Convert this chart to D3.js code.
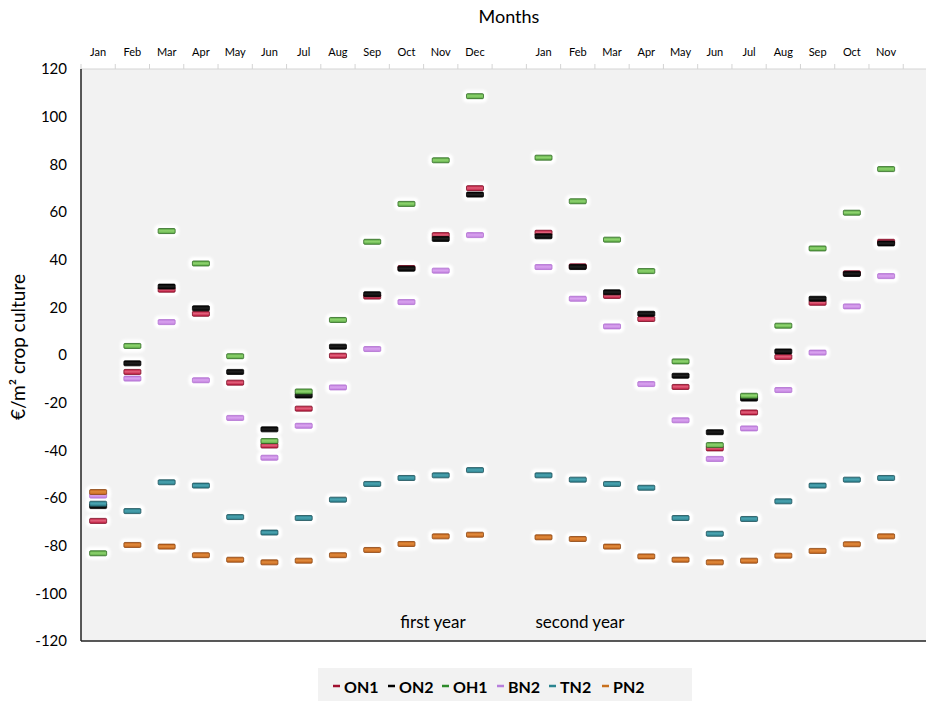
<!DOCTYPE html>
<html>
<head>
<meta charset="utf-8">
<script src="https://cdn.jsdelivr.net/npm/d3@7"></script>
<style>
  html, body { margin: 0; padding: 0; background: #ffffff; }
  svg { display: block; font-family: Lato, "Open Sans", sans-serif; }
</style>
</head>
<body>
<svg id="chart" width="926" height="701"></svg>
<script>
// ---- Data ----
const months = ["Jan","Feb","Mar","Apr","May","Jun","Jul","Aug","Sep","Oct","Nov","Dec","",
                "Jan","Feb","Mar","Apr","May","Jun","Jul","Aug","Sep","Oct","Nov"];
const yTicks = [120, 100, 80, 60, 40, 20, 0, -20, -40, -60, -80, -100, -120];
const seriesNames = ["ON1", "ON2", "OH1", "BN2", "TN2", "PN2"];
const ON1 = [-69.6, -7.1, 27.4, 17.3, -11.6, -38.0, -22.5, -0.3, 24.5, 36.5, 50.3, 70.0, null,
             51.3, 37.2, 24.8, 15.1, -13.4, -39.2, -24.1, -0.8, 21.9, 34.3, 47.5];
const ON2 = [-63.4, -3.5, 28.7, 19.6, -7.1, -31.2, -17.0, 3.5, 25.5, 36.2, 48.7, 67.3, null,
             49.8, 36.9, 26.3, 17.3, -8.7, -32.4, -18.3, 1.5, 23.6, 34.0, 46.8];
const OH1 = [-83.2, 3.8, 52.0, 38.4, -0.5, -36.1, -15.3, 14.7, 47.5, 63.4, 81.7, 108.6, null,
             82.8, 64.5, 48.4, 35.2, -2.7, -37.8, -17.1, 12.3, 44.7, 59.7, 78.0];
const BN2 = [-59.0, -9.9, 13.8, -10.6, -26.4, -43.1, -29.7, -13.6, 2.5, 22.2, 35.4, 50.3, null,
             36.9, 23.6, 12.0, -12.2, -27.4, -43.6, -30.8, -14.7, 1.0, 20.4, 33.1];
const TN2 = [-62.4, -65.5, -53.4, -54.8, -68.0, -74.5, -68.4, -60.7, -54.1, -51.6, -50.5, -48.3, null,
             -50.5, -52.3, -54.1, -55.7, -68.4, -75.0, -68.8, -61.4, -54.8, -52.3, -51.6];
const PN2 = [-57.5, -79.7, -80.4, -84.0, -85.9, -87.0, -86.3, -84.0, -81.8, -79.3, -76.1, -75.4, null,
             -76.5, -77.2, -80.4, -84.5, -85.9, -87.0, -86.3, -84.2, -82.2, -79.4, -76.1];
const seriesValues = [ON1, ON2, OH1, BN2, TN2, PN2];
const yearLabels = ["first year", "second year"];

// ---- Styles ----
const colors = {
  ON1: { top: "#e0607a", fill: "#c0183f", stroke: "#7a0a22" },
  ON2: { top: "#202020", fill: "#000000", stroke: "#000000" },
  OH1: { top: "#8fd46f", fill: "#5aa845", stroke: "#2f6a22" },
  BN2: { top: "#d9a3ef", fill: "#c07fdd", stroke: "#b06ed0" },
  TN2: { top: "#4aa3b0", fill: "#2b7f8c", stroke: "#1c4f58" },
  PN2: { top: "#e08a3c", fill: "#c3631b", stroke: "#8a4512" }
};
const legendColors = { ON1: "#a0102f", ON2: "#000000", OH1: "#2e8a2a", BN2: "#b77fdc", TN2: "#2b8590", PN2: "#c8711e" };

const svg = d3.select("#chart");
const W = 926, H = 701;
const plotLeft = 81, plotTop = 69, plotBottom = 641;
const slot = 34.26;

const x = d3.scaleBand().domain(d3.range(months.length))
  .range([plotLeft, plotLeft + slot * months.length]).padding(0);
const y = d3.scaleLinear().domain([-120, 120]).range([plotBottom, plotTop]);

const defs = svg.append("defs");
const blur = defs.append("filter").attr("id", "halo").attr("x", "-50%").attr("y", "-100%")
  .attr("width", "200%").attr("height", "300%");
blur.append("feGaussianBlur").attr("stdDeviation", 1.2);
seriesNames.forEach(n => {
  const g = defs.append("linearGradient").attr("id", "g" + n)
    .attr("x1", 0).attr("y1", 0).attr("x2", 0).attr("y2", 1);
  g.append("stop").attr("offset", "0%").attr("stop-color", colors[n].fill);
  g.append("stop").attr("offset", "45%").attr("stop-color", colors[n].top);
  g.append("stop").attr("offset", "100%").attr("stop-color", colors[n].fill);
});

// Plot background
svg.append("rect").attr("x", plotLeft).attr("y", plotTop)
  .attr("width", W - plotLeft).attr("height", plotBottom - plotTop)
  .attr("fill", "#f2f2f2");

// Top axis (months)
const topAxis = d3.axisTop(x).tickSize(0).tickPadding(0).tickFormat(i => months[i]);
const gTop = svg.append("g").attr("transform", `translate(0,${plotTop})`).call(topAxis);
gTop.select(".domain").remove();
gTop.selectAll("text").attr("y", -13).attr("font-size", 11).attr("fill", "#000")
  .attr("font-family", "Lato, sans-serif");
svg.append("line").attr("x1", plotLeft).attr("x2", W).attr("y1", plotTop).attr("y2", plotTop)
  .attr("stroke", "#d4d4d4").attr("stroke-width", 1);
svg.append("g").selectAll("line").data(d3.range(months.length + 1)).join("line")
  .attr("x1", i => plotLeft + i * x.bandwidth()).attr("x2", i => plotLeft + i * x.bandwidth())
  .attr("y1", plotTop - 5).attr("y2", plotTop)
  .attr("stroke", "#d4d4d4").attr("stroke-width", 1);

svg.append("text").attr("x", 509).attr("y", 23).attr("text-anchor", "middle")
  .attr("font-size", 18).attr("fill", "#000").text("Months");

// Left axis
const leftAxis = d3.axisLeft(y).tickValues(yTicks).tickSize(0).tickPadding(14)
  .tickFormat(d => String(d));
const gLeft = svg.append("g").attr("transform", `translate(${plotLeft},0)`).call(leftAxis);
gLeft.select(".domain").remove();
gLeft.selectAll("text").attr("font-size", 15).attr("fill", "#000")
  .attr("font-family", "Lato, sans-serif");
svg.append("line").attr("x1", plotLeft).attr("x2", plotLeft).attr("y1", plotTop).attr("y2", plotBottom)
  .attr("stroke", "#222").attr("stroke-width", 1.5);
svg.append("line").attr("x1", plotLeft).attr("x2", W).attr("y1", plotBottom).attr("y2", plotBottom)
  .attr("stroke", "#222").attr("stroke-width", 1.5);

svg.append("text").attr("transform", `translate(25,${y(0) - 8}) rotate(-90)`)
  .attr("text-anchor", "middle").attr("font-size", 19).attr("fill", "#000")
  .text("€/m² crop culture");

// Year labels
svg.append("text").attr("x", 433).attr("y", 628).attr("text-anchor", "middle")
  .attr("font-size", 17).attr("fill", "#000").text(yearLabels[0]);
svg.append("text").attr("x", 580).attr("y", 628).attr("text-anchor", "middle")
  .attr("font-size", 17).attr("fill", "#000").text(yearLabels[1]);

// Markers: all halos first, then all markers (series order)
const mw = 17, mh = 5;
const allPts = [];
seriesNames.forEach((name, si) => {
  seriesValues[si].forEach((v, i) => { if (v !== null) allPts.push({ name, i, v }); });
});
svg.append("g").selectAll("rect").data(allPts).join("rect")
  .attr("x", d => x(d.i) + x.bandwidth() / 2 - mw / 2 - 4)
  .attr("y", d => y(d.v) - mh / 2 - 4)
  .attr("width", mw + 8).attr("height", mh + 8).attr("rx", 5)
  .attr("fill", "#ffffff").attr("filter", "url(#halo)");
svg.append("g").selectAll("rect").data(allPts).join("rect")
  .attr("x", d => x(d.i) + x.bandwidth() / 2 - mw / 2)
  .attr("y", d => y(d.v) - mh / 2)
  .attr("width", mw).attr("height", mh).attr("rx", 1)
  .attr("fill", d => `url(#g${d.name})`)
  .attr("stroke", d => colors[d.name].stroke).attr("stroke-width", 0.8);

// Legend
const lg = svg.append("g");
lg.append("rect").attr("x", 318).attr("y", 668).attr("width", 374).attr("height", 33)
  .attr("fill", "#f2f2f2");
const legendX = [333, 388, 442, 497, 549, 602];
seriesNames.forEach((name, i) => {
  const gi = lg.append("g").attr("transform", `translate(${legendX[i]},687)`);
  gi.append("line").attr("x1", 0).attr("x2", 7).attr("y1", -1).attr("y2", -1)
    .attr("stroke", legendColors[name]).attr("stroke-width", 2.5);
  gi.append("text").attr("x", 11).attr("y", 5.5).attr("font-size", 16).attr("font-weight", "bold")
    .attr("fill", "#000").text(name);
});
</script>
</body>
</html>
